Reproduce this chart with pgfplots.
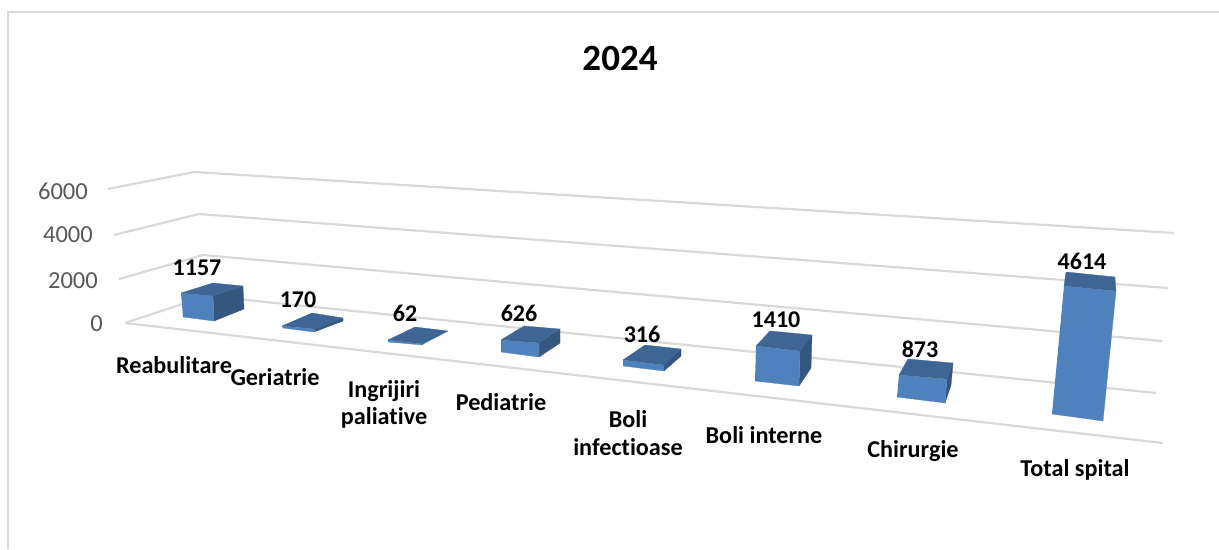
\documentclass[border=0pt]{standalone}
\usepackage{pgfplots}
\usepackage{fontspec}
\setmainfont[Ligatures=NoCommon]{Carlito}
\pgfplotsset{compat=1.18}
\definecolor{grid}{HTML}{D9D9D9}
\definecolor{front}{HTML}{4F81BD}
\definecolor{topf}{HTML}{3E6593}
\definecolor{side}{HTML}{34567F}
\definecolor{ticktxt}{HTML}{595959}
\pgfplotsset{
  gl/.style={draw=grid, line width=2.2bp},
  fr/.style={fill=front, draw=front, line width=0.3bp},
  tp/.style={fill=topf, draw=topf, line width=0.3bp},
  sd/.style={fill=side, draw=side, line width=0.3bp},
  lbl/.style={draw=none, point meta=explicit symbolic, nodes near coords,
    every node near coord/.style={anchor=center, inner sep=0pt, text=black,
      font=\fontsize{#1}{#1}\selectfont\bfseries}},
}
\begin{document}
\begin{tikzpicture}
\begin{axis}[
  width=1219bp, height=549bp, scale only axis, hide axis,
  xmin=0, xmax=1219, ymin=0, ymax=549, y dir=reverse, clip=true]
% page extent
\addplot[draw=none] coordinates {(0,0) (1219,549)};
% frame
\addplot[draw=grid, line width=2bp] coordinates {(7.5,549) (7.5,12) (1219,12)};
% gridlines (value levels)
\addplot[gl] coordinates {(108,189) (194,172) (1174,233)};
\addplot[gl] coordinates {(114,235) (199,214) (1168,288)};
\addplot[gl] coordinates {(119,279) (203,255) (1162,341)};
\addplot[gl] coordinates {(125,323) (207,296) (1156,393)};
\addplot[gl] coordinates {(125,323) (1163,443)};
% Reabulitare 1157
\addplot[sd] coordinates {(213,296) (243,286) (244,309) (214,321)};
\addplot[fr] coordinates {(181,293) (213,296) (214,321) (183,317)};
\addplot[tp] coordinates {(181,293) (213,283) (243,286) (213,296)};
% Geriatrie 170
\addplot[sd] coordinates {(315,329) (343,318) (343,321) (314,332)};
\addplot[fr] coordinates {(282,326) (315,329) (314,332) (283,328)};
\addplot[tp] coordinates {(282,326) (312,313) (343,318) (315,329)};
% Ingrijiri paliative 62
\addplot[fr] coordinates {(388,340) (423,344) (423,345) (388,342)};
\addplot[tp] coordinates {(388,340) (415,327) (448,331) (423,344)};
% Pediatrie 626
\addplot[sd] coordinates {(539,343) (560,329) (560,343) (539,357)};
\addplot[fr] coordinates {(501,340) (539,343) (539,357) (501,352)};
\addplot[tp] coordinates {(501,340) (524,326) (560,329) (539,343)};
% Boli infectioase 316
\addplot[sd] coordinates {(664,365) (681,349) (681,356) (664,371)};
\addplot[fr] coordinates {(623,360) (664,365) (664,371) (623,366)};
\addplot[tp] coordinates {(623,360) (645,345) (681,349) (664,365)};
% Boli interne 1410
\addplot[sd] coordinates {(800,351) (812,335) (811,368) (799,386)};
\addplot[fr] coordinates {(756,346) (800,351) (799,386) (755,381)};
\addplot[tp] coordinates {(756,346) (770,331) (812,335) (800,351)};
% Chirurgie 873
\addplot[sd] coordinates {(947,379) (953,363) (951,385) (945,403)};
\addplot[fr] coordinates {(899,375) (947,379) (945,403) (897,397)};
\addplot[tp] coordinates {(899,375) (908,359) (953,363) (947,379)};
% Total spital 4614
\addplot[fr] coordinates {(1064,286) (1116,291) (1103,421) (1052,414)};
\addplot[tp] coordinates {(1064,286) (1066,272) (1115,277) (1116,291)};
% title
\addplot[lbl=37bp] coordinates {(620,58) [2024]};
% values
\addplot[lbl=24bp] coordinates {
  (197,268) [1157]
  (298,300) [170]
  (405,313) [62]
  (519,313) [626]
  (642,334) [316]
  (776,320) [1410]
  (920,349) [873]
  (1082,261) [4614]};
% categories
\addplot[lbl=24.2bp] coordinates {
  (174,365) [Reabulitare]
  (275,377) [Geriatrie]
  (384,391) [Ingrijiri]
  (384,418) [paliative]
  (501,402) [Pediatrie]
  (628,419) [Boli]
  (628,447) [infectioase]
  (764,435) [Boli interne]
  (913,451) [Chirurgie]
  (1075,470) [Total spital]};
% value axis tick labels
\addplot[draw=none, point meta=explicit symbolic, nodes near coords,
  every node near coord/.style={anchor=east, inner sep=0pt, text=ticktxt,
    font=\fontsize{24.5bp}{24.5bp}\selectfont}] coordinates {
  (88,191) [6000]
  (93,235) [4000]
  (98,281) [2000]
  (103,324) [0]};
\end{axis}
\end{tikzpicture}
\end{document}
